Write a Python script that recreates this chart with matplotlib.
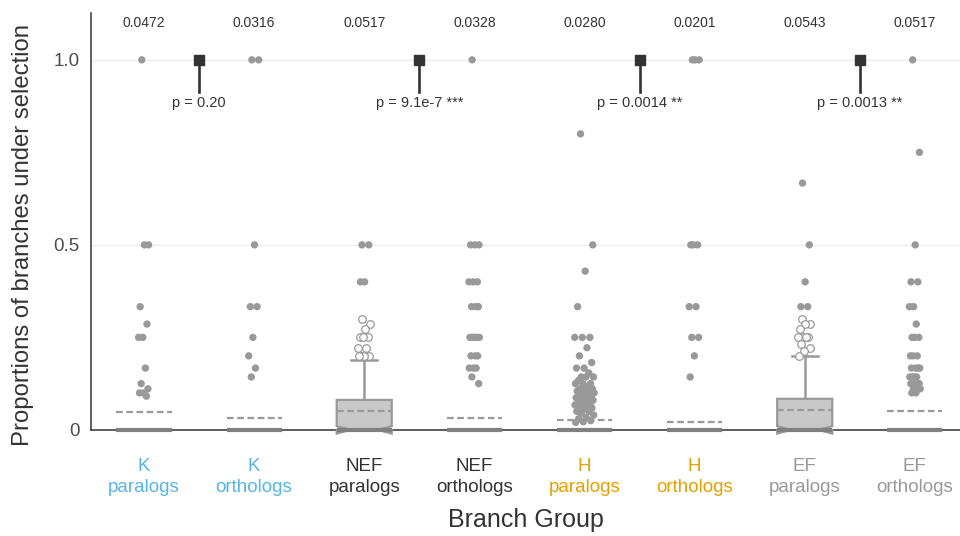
import numpy as np
import matplotlib
matplotlib.use("Agg")
import matplotlib.pyplot as plt

plt.rcParams['font.family'] = ['Liberation Sans', 'DejaVu Sans']

# groups on the x axis
groups = ["K\nparalogs", "K\northologs", "NEF\nparalogs", "NEF\northologs",
          "H\nparalogs", "H\northologs", "EF\nparalogs", "EF\northologs"]
group_colors = ["#56B4E9", "#56B4E9", "#333333", "#333333",
                "#E69F00", "#E69F00", "#999999", "#999999"]

# mean proportion per group (printed on top, also dashed line)
means = [0.0472, 0.0316, 0.0517, 0.0328, 0.0280, 0.0201, 0.0543, 0.0517]

# box stats (q1, median, q3, upper whisker); most groups collapse to 0
q1 = [0, 0, 0, 0, 0, 0, 0, 0]
med = [0, 0, 0, 0, 0, 0, 0, 0]
q3 = [0, 0, 0.081, 0, 0, 0, 0.084, 0]
whi = [0, 0, 0.19, 0, 0, 0, 0.20, 0]
notch = [0, 0, 0.01, 0, 0, 0, 0.01, 0]

# non-zero points (filled dots) per group
pts = [
    [1.0, 0.5, 0.5, 0.333, 0.286, 0.25, 0.25, 0.167, 0.125, 0.111, 0.1, 0.1, 0.091],
    [1.0, 1.0, 0.5, 0.333, 0.333, 0.25, 0.2, 0.167, 0.143],
    [0.5, 0.5, 0.4, 0.4],
    [1.0, 0.5, 0.5, 0.5, 0.4, 0.4, 0.4, 0.333, 0.333, 0.333, 0.25, 0.25, 0.25, 0.25,
     0.25, 0.2, 0.2, 0.2, 0.167, 0.167, 0.167, 0.143, 0.125],
    [0.8, 0.5, 0.429, 0.333, 0.25, 0.25, 0.25, 0.222, 0.2, 0.182, 0.167, 0.167, 0.154,
     0.143, 0.143, 0.143, 0.133, 0.125, 0.125, 0.125, 0.118, 0.111, 0.111, 0.111,
     0.105, 0.1, 0.1, 0.1, 0.1, 0.095, 0.091, 0.091, 0.087, 0.083, 0.083, 0.08,
     0.077, 0.077, 0.071, 0.071, 0.067, 0.067, 0.063, 0.059, 0.056, 0.05, 0.05,
     0.045, 0.04, 0.034, 0.03, 0.025, 0.022, 0.02],
    [1.0, 1.0, 1.0, 0.5, 0.5, 0.5, 0.333, 0.333, 0.25, 0.25, 0.2, 0.143],
    [0.667, 0.5, 0.4, 0.333, 0.333],
    [1.0, 0.75, 0.5, 0.4, 0.4, 0.333, 0.333, 0.286, 0.25, 0.25, 0.25, 0.2, 0.2, 0.2,
     0.167, 0.167, 0.167, 0.167, 0.143, 0.143, 0.143, 0.143, 0.125, 0.125, 0.125,
     0.111, 0.111, 0.111, 0.1, 0.1],
]

# box outliers (open circles)
outl = {
    2: [0.3, 0.286, 0.273, 0.25, 0.25, 0.25, 0.222, 0.222, 0.2, 0.2, 0.2, 0.2],
    6: [0.3, 0.286, 0.286, 0.273, 0.25, 0.25, 0.25, 0.25, 0.231, 0.222, 0.214, 0.2],
}

# pairwise tests
p_labels = ["p = 0.20", "p = 9.1e-7 ***", "p = 0.0014 **", "p = 0.0013 **"]

gray = "#999999"
dark = "#333333"


def jitter(n, spread):
    k = np.arange(n)
    return ((k * 0.618034 + 0.3) % 1.0 - 0.5) * spread


fig = plt.figure(figsize=(9.6, 5.36), dpi=100)
ax = fig.add_axes([0.0948, 0.198, 0.9052, 0.778])

pos = np.arange(1, len(groups) + 1)

stats = []
for i in range(len(groups)):
    stats.append(dict(med=med[i], q1=q1[i], q3=q3[i], whislo=q1[i], whishi=whi[i],
                      cilo=med[i] - notch[i], cihi=med[i] + notch[i], fliers=[]))
bp = ax.bxp(stats, positions=pos, widths=0.5, capwidths=0.24, shownotches=True,
            patch_artist=True, showfliers=False,
            boxprops=dict(facecolor="#c8c8c8", edgecolor=gray, linewidth=1.6),
            whiskerprops=dict(color=gray, linewidth=1.8),
            capprops=dict(color=gray, linewidth=1.8),
            medianprops=dict(color="none"))
for art in bp['boxes']:
    art.set_clip_on(False)
    art.set_zorder(3)

# medians over the full box width
for i, m in enumerate(med):
    ax.plot([pos[i] - 0.25, pos[i] + 0.25], [m, m], color="#808080", lw=3,
            solid_capstyle="butt", clip_on=False, zorder=3.5)

# mean dashed lines
for i, m in enumerate(means):
    ax.plot([pos[i] - 0.25, pos[i] + 0.25], [m, m], color=gray, lw=1.6,
            ls=(0, (3, 1.6)), zorder=4)

# dots
for i, vals in enumerate(pts):
    spread = 0.18 if len(vals) > 40 else 0.1
    ax.scatter(pos[i] + jitter(len(vals), spread), vals, s=28, color=gray,
               edgecolors="none", zorder=5)
for i, vals in outl.items():
    ax.scatter(pos[i] + jitter(len(vals), 0.12), vals, s=30, facecolor="white",
               edgecolors=gray, linewidths=0.9, zorder=6)

# means printed at top
for i, m in enumerate(means):
    ax.text(pos[i], 1.10, "%.4f" % m, ha="center", va="center", fontsize=10,
            color=dark)

# p-value markers
for j, lab in enumerate(p_labels):
    xm = pos[2 * j] + 0.5
    ax.plot([xm, xm], [1.0, 0.913], color=dark, lw=1.9, zorder=6)
    ax.plot([xm], [1.0], marker="s", ms=7, color=dark, zorder=7)
    ax.text(xm, 0.884, lab, ha="center", va="center", fontsize=10.5, color=dark)

ax.set_xlim(0.519, 8.41)
ax.set_ylim(0, 1.127)
ax.set_yticks([0, 0.5, 1.0])
ax.set_yticklabels(["0", "0.5", "1.0"])
ax.set_xticks(pos)
ax.set_xticklabels(groups, linespacing=1.35)
for lbl, c in zip(ax.get_xticklabels(), group_colors):
    lbl.set_color(c)
ax.tick_params(axis="x", length=0, pad=20, labelsize=13.5)
ax.tick_params(axis="y", length=0, pad=8, labelsize=13.5, labelcolor="#4d4d4d")
ax.yaxis.grid(True, color="#ebebeb", lw=0.9)
ax.set_axisbelow(True)
for s in ["top", "right"]:
    ax.spines[s].set_visible(False)
ax.spines["left"].set_color(dark)
ax.spines["bottom"].set_color(dark)
ax.spines["left"].set_linewidth(1.1)
ax.spines["bottom"].set_linewidth(1.1)

ax.set_xlabel("Branch Group", fontsize=18, color=dark)
ax.set_ylabel("Proportions of branches under selection", fontsize=17.2, color=dark)
ax.xaxis.set_label_coords(0.5, -0.187)
ax.yaxis.set_label_coords(-0.066, 0.468)

fig.savefig("out.png", dpi=100)
